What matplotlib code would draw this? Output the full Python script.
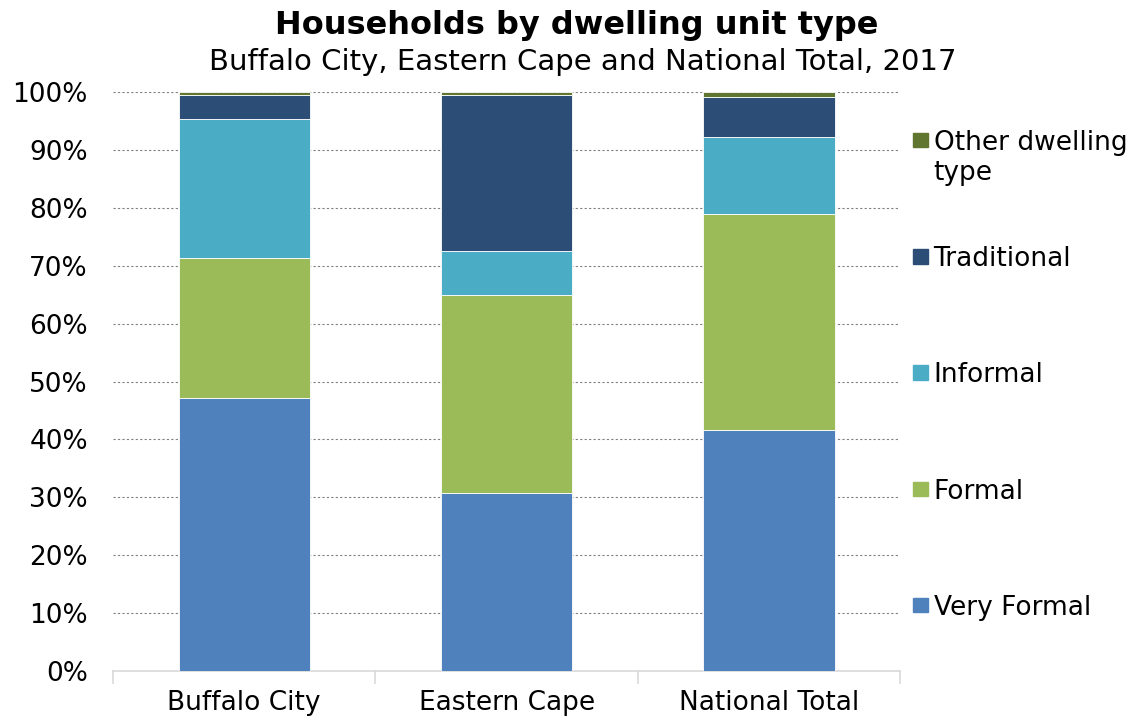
import numpy as np
import matplotlib.pyplot as plt

# Share of households by dwelling type (%)
regions = ['Buffalo City', 'Eastern Cape', 'National Total']
series = ['Very Formal', 'Formal', 'Informal', 'Traditional', 'Other dwelling\ntype']
very_formal = [47.2, 30.8, 41.7]
formal = [24.1, 34.1, 37.2]
informal = [24.0, 7.6, 13.3]
traditional = [4.2, 26.9, 7.0]
other = [0.5, 0.6, 0.8]
colors = ['#4F81BD', '#9BBB59', '#4BACC6', '#2C4D75', '#5F7530']

values = [very_formal, formal, informal, traditional, other]

fig = plt.figure(figsize=(11.33, 7.22), dpi=100)
ax = fig.add_axes([0.0997, 0.0706, 0.6949, 0.802])

x = np.arange(len(regions))
bottom = np.zeros(len(regions))
for vals, col in zip(values, colors):
    ax.bar(x, vals, 0.5, bottom=bottom, color=col, edgecolor='white',
           linewidth=0.6, zorder=3)
    bottom += np.array(vals)

ax.set_xlim(-0.5, 2.5)
ax.set_ylim(0, 100)
ax.set_yticks(np.arange(0, 101, 10))
ax.set_yticklabels([f'{v}%' for v in range(0, 101, 10)], fontsize=19)
ax.yaxis.grid(True, linestyle=(0, (2, 2)), color='#808080', linewidth=0.8, zorder=0)
ax.tick_params(axis='y', length=0, pad=18)

ax.set_xticks(x)
ax.set_xticklabels(regions, fontsize=19)
ax.tick_params(axis='x', length=0, pad=14)
# category separator ticks on the base line
for b in np.arange(-0.5, 3, 1):
    ax.plot([b, b], [0, -2], color='#d9d9d9', linewidth=1.2, clip_on=False, zorder=4)

for s in ['top', 'right', 'left']:
    ax.spines[s].set_visible(False)
ax.spines['bottom'].set_color('#d9d9d9')
ax.spines['bottom'].set_linewidth(1.2)

# legend, top entry first
legend_y = [0.805, 0.644, 0.483, 0.322, 0.161]
for lab, col, ly in zip(series[::-1], colors[::-1], legend_y):
    fig.patches.append(plt.Rectangle((0.806, ly - 0.009), 0.013, 0.02,
                                     transform=fig.transFigure, color=col))
    fig.text(0.824, ly + 0.015, lab, fontsize=19, va='top', ha='left',
             linespacing=1.2)

fig.text(0.509, 0.965, 'Households by dwelling unit type', ha='center', va='center',
         fontsize=23, fontweight='bold')
fig.text(0.514, 0.914, 'Buffalo City, Eastern Cape and National Total, 2017',
         ha='center', va='center', fontsize=21)

fig.savefig('out.png', dpi=100)
